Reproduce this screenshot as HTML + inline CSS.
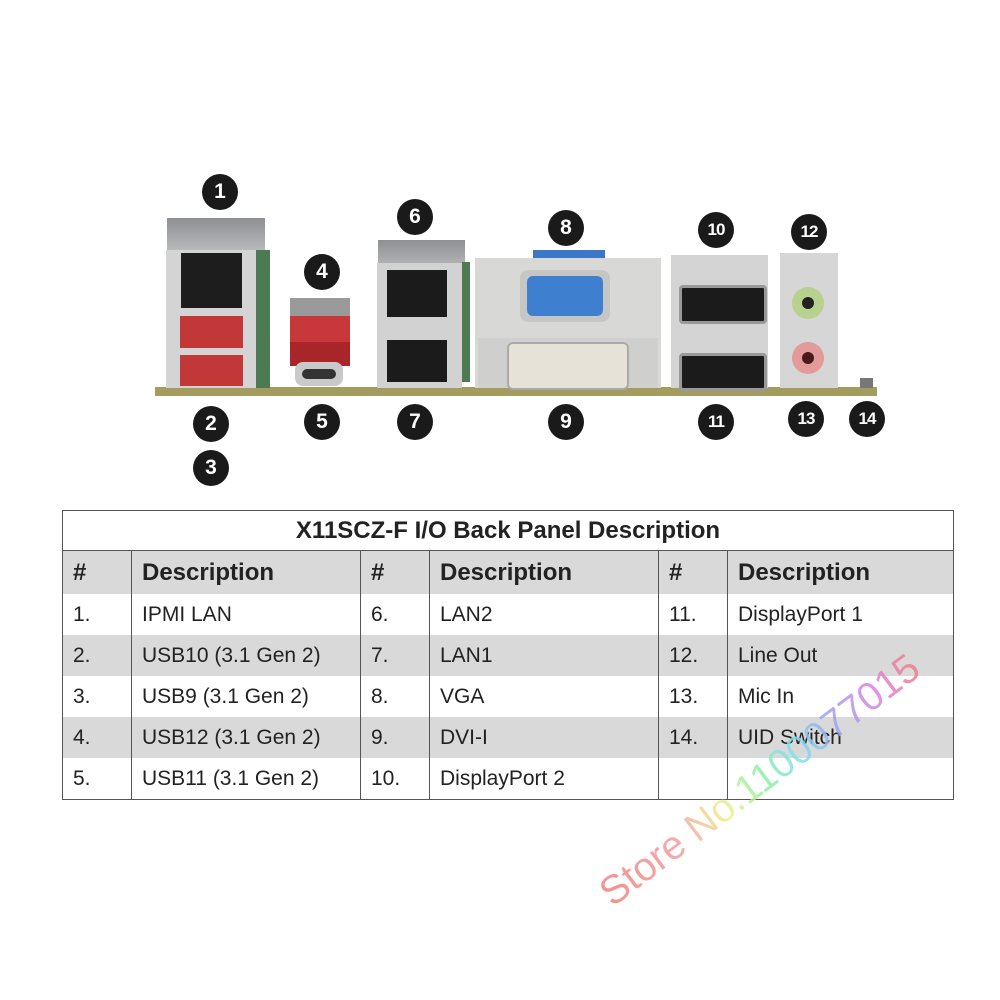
<!DOCTYPE html>
<html><head><meta charset="utf-8"><style>
body{margin:0;width:1000px;height:1000px;background:#fff;position:relative;overflow:hidden;font-family:"Liberation Sans",Arial,sans-serif}
.a{position:absolute}
.c{position:absolute;width:36px;height:36px;margin:-18px 0 0 -18px;border-radius:50%;background:#1a1a1a;color:#fff;font-weight:bold;font-size:21px;line-height:36px;text-align:center}
.c.s{font-size:17px;letter-spacing:-1px}
table{position:absolute;left:62px;top:510px;width:892px;border-collapse:collapse;font-size:21px;color:#222}
td{border:1.5px solid #555;padding:0 0 0 10px;height:41px}
tr.g td{background:#d9d9d9}
tr.h td{font-weight:bold;font-size:24px;height:43px}
tr.g td,tr.w td{border-top:none;border-bottom:none}
.wm{position:absolute;font-size:40px;transform:rotate(-37deg);transform-origin:left center;background:linear-gradient(90deg,#f08080,#f4a0a0 25%,#f0f090 38%,#90f0a0 50%,#80e0f0 62%,#a0a0f0 75%,#e080e0 88%,#f08080);-webkit-background-clip:text;background-clip:text;color:transparent;white-space:nowrap;opacity:.85}
</style></head><body>
<div class="a" style="left:155px;top:387px;width:722px;height:9px;background:#a39c5e"></div>
<div class="a" style="left:167px;top:218px;width:98px;height:34px;background:linear-gradient(#8d8f92,#b9bbbd)"></div>
<div class="a" style="left:256px;top:250px;width:14px;height:138px;background:#4d7a52"></div>
<div class="a" style="left:166px;top:250px;width:90px;height:138px;background:#d4d4d4"></div>
<div class="a" style="left:181px;top:253px;width:61px;height:55px;background:#1d1d1d"></div>
<div class="a" style="left:180px;top:316px;width:63px;height:32px;background:#c23838"></div>
<div class="a" style="left:180px;top:355px;width:63px;height:31px;background:#c23838"></div>
<div class="a" style="left:290px;top:298px;width:60px;height:20px;background:#9a9a9a"></div>
<div class="a" style="left:290px;top:316px;width:60px;height:26px;background:#c8383a"></div>
<div class="a" style="left:290px;top:342px;width:60px;height:24px;background:#a8262a"></div>
<div class="a" style="left:295px;top:362px;width:48px;height:24px;background:#c9c9c9;border-radius:8px"></div>
<div class="a" style="left:302px;top:369px;width:34px;height:10px;background:#333;border-radius:5px"></div>
<div class="a" style="left:378px;top:240px;width:87px;height:24px;background:linear-gradient(#8d8f92,#b0b2b4)"></div>
<div class="a" style="left:462px;top:262px;width:8px;height:120px;background:#4d7a52"></div>
<div class="a" style="left:377px;top:263px;width:85px;height:125px;background:#d2d2d2"></div>
<div class="a" style="left:387px;top:270px;width:60px;height:47px;background:#1b1b1b"></div>
<div class="a" style="left:387px;top:340px;width:60px;height:42px;background:#1b1b1b"></div>
<div class="a" style="left:533px;top:250px;width:72px;height:14px;background:#3b78c8"></div>
<div class="a" style="left:475px;top:258px;width:186px;height:130px;background:#d8d8d6"></div>
<div class="a" style="left:520px;top:270px;width:90px;height:52px;background:#c6c6c4;border-radius:8px"></div>
<div class="a" style="left:527px;top:276px;width:76px;height:40px;background:#3f7fd0;border-radius:6px"></div>
<div class="a" style="left:478px;top:338px;width:180px;height:50px;background:#cfcfcd"></div>
<div class="a" style="left:507px;top:342px;width:118px;height:44px;background:#e6e2d8;border:2px solid #aaa;border-radius:6px"></div>
<div class="a" style="left:671px;top:255px;width:97px;height:133px;background:#d4d4d4"></div>
<div class="a" style="left:679px;top:285px;width:82px;height:33px;background:#1b1b1b;border:3px solid #999;border-radius:4px"></div>
<div class="a" style="left:679px;top:353px;width:82px;height:32px;background:#1b1b1b;border:3px solid #999;border-radius:4px"></div>
<div class="a" style="left:780px;top:253px;width:58px;height:135px;background:#d6d6d6"></div>
<div class="a" style="left:792px;top:287px;width:32px;height:32px;border-radius:50%;background:#b7d28e"></div>
<div class="a" style="left:802px;top:297px;width:12px;height:12px;border-radius:50%;background:#222"></div>
<div class="a" style="left:792px;top:342px;width:32px;height:32px;border-radius:50%;background:#e29a9a"></div>
<div class="a" style="left:802px;top:352px;width:12px;height:12px;border-radius:50%;background:#4a1a1a"></div>
<div class="a" style="left:860px;top:378px;width:13px;height:10px;background:#777"></div>
<div class="c" style="left:220px;top:192px">1</div>
<div class="c" style="left:211px;top:424px">2</div>
<div class="c" style="left:211px;top:468px">3</div>
<div class="c" style="left:322px;top:272px">4</div>
<div class="c" style="left:322px;top:422px">5</div>
<div class="c" style="left:415px;top:217px">6</div>
<div class="c" style="left:415px;top:422px">7</div>
<div class="c" style="left:566px;top:228px">8</div>
<div class="c" style="left:566px;top:422px">9</div>
<div class="c s" style="left:716px;top:230px">10</div>
<div class="c s" style="left:716px;top:422px">11</div>
<div class="c s" style="left:809px;top:232px">12</div>
<div class="c s" style="left:806px;top:419px">13</div>
<div class="c s" style="left:867px;top:419px">14</div>
<table>
<tr><td colspan="6" style="text-align:center;font-weight:bold;font-size:24px;height:39px;padding:0">X11SCZ-F I/O Back Panel Description</td></tr>
<tr class="h g"><td style="width:58px">#</td><td style="width:218px">Description</td><td style="width:58px">#</td><td style="width:218px">Description</td><td style="width:58px">#</td><td>Description</td></tr>
<tr class="w"><td>1.</td><td>IPMI LAN</td><td>6.</td><td>LAN2</td><td>11.</td><td>DisplayPort 1</td></tr>
<tr class="g"><td>2.</td><td>USB10 (3.1 Gen 2)</td><td>7.</td><td>LAN1</td><td>12.</td><td>Line Out</td></tr>
<tr class="w"><td>3.</td><td>USB9 (3.1 Gen 2)</td><td>8.</td><td>VGA</td><td>13.</td><td>Mic In</td></tr>
<tr class="g"><td>4.</td><td>USB12 (3.1 Gen 2)</td><td>9.</td><td>DVI-I</td><td>14.</td><td>UID Switch</td></tr>
<tr class="w" style="border-bottom:1.5px solid #555"><td>5.</td><td>USB11 (3.1 Gen 2)</td><td>10.</td><td>DisplayPort 2</td><td></td><td></td></tr>
</table>
<div class="wm" style="left:605px;top:875px">Store No.1100077015</div>
</body></html>
